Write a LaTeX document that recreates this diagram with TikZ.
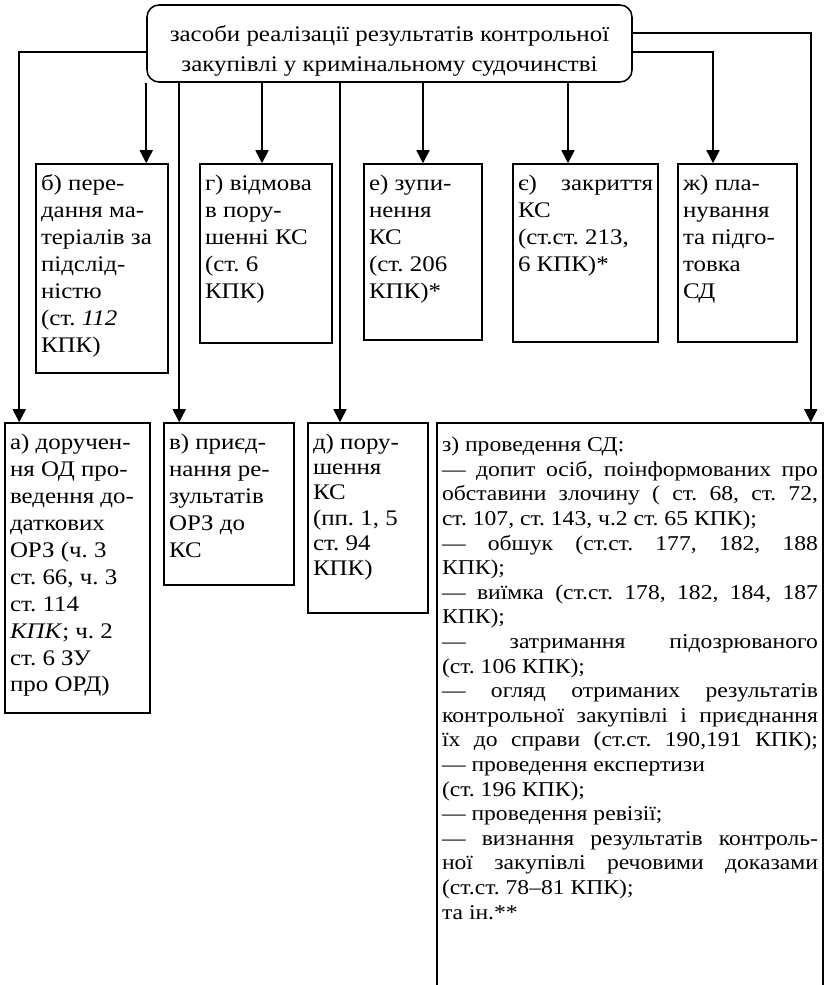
\documentclass[tikz,border=0pt]{standalone}
\usepackage{fontspec}
\setmainfont{Liberation Serif}[FakeStretch=1.12]
\usetikzlibrary{arrows.meta}
\newlength{\pxu}
\setlength{\pxu}{0.3mm}
\newcommand{\celltext}[3]{\parbox[c][#2\pxu][t]{#1\pxu}{\raggedright\vspace*{2\pxu}#3}}
\newcommand{\jline}[1]{\makebox[\linewidth][s]{#1}}
\frenchspacing

\begin{document}
\begin{tikzpicture}[
    x=0.3mm, y=-0.3mm,
    every node/.style={font=\fontsize{19}{23}\selectfont},
    cellbox/.style={draw, line width=1.3pt, inner xsep=5\pxu, inner ysep=9\pxu},
    arr/.style={line width=1.3pt, -{Triangle[length=3.9mm, width=3.9mm]}},
  ]
  \useasboundingbox (0,0) rectangle (829,985);

  \node[draw, line width=1.3pt, rounded corners=3.6mm, minimum width=485\pxu, minimum height=77\pxu,
        align=center, font=\fontsize{19}{25.5}\selectfont] (top) at (389.5,43.5)
    {\rule{0pt}{30\pxu}засоби реалізації результатів контрольної\\закупівлі у кримінальному судочинстві};

  % upper row
  \node[cellbox] (b) at (102,268.5) {\celltext{122}{191}{б) пере-\\дання ма-\\теріалів за\\підслід-\\ністю\\(ст. \textit{112}\\КПК)}};
  \node[cellbox] (g) at (266,253.5) {\celltext{122}{161}{г) відмова\\в пору-\\шенні КС\\(ст. 6\\КПК)}};
  \node[cellbox] (e) at (423,252) {\celltext{108}{158}{е) зупи-\\нення\\КС\\(ст. 206\\КПК)*}};
  \node[cellbox] (ie) at (585.5,253) {\celltext{135}{160}{\jline{є) закриття}\\КС\\(ст.ст. 213,\\6 КПК)*}};
  \node[cellbox] (zh) at (737.5,253) {\celltext{109}{160}{ж) пла-\\нування\\та підго-\\товка\\СД}};

  % lower row
  \node[cellbox] (a) at (77.5,568) {\celltext{135}{272}{а) доручен-\\ня ОД про-\\ведення до-\\даткових\\ОРЗ (ч. 3\\ст. 66, ч. 3\\ст. 114\\\textit{КПК}; ч. 2\\ст. 6 ЗУ\\про ОРД)}};
  \node[cellbox] (v) at (229,504) {\celltext{120}{144}{в) приєд-\\нання ре-\\зультатів\\ОРЗ до\\КС}};
  \node[cellbox, font=\fontsize{19}{21.5}\selectfont] (d) at (368,518) {\celltext{110}{172}{д) пору-\\шення\\КС\\(пп. 1, 5\\ст. 94\\КПК)}};
  \node[cellbox, inner ysep=12\pxu, font=\fontsize{18}{21}\selectfont] (z) at (630,709) {\celltext{376}{548}{%
    з) проведення СД:\\
    \jline{— допит осіб, поінформованих про}\\
    \jline{обставини злочину ( ст. 68, ст. 72,}\\
    ст. 107, ст. 143, ч.2 ст. 65 КПК);\\
    \jline{— обшук (ст.ст. 177, 182, 188}\\
    КПК);\\
    \jline{— виїмка (ст.ст. 178, 182, 184, 187}\\
    КПК);\\
    \jline{— затримання підозрюваного}\\
    (ст. 106 КПК);\\
    \jline{— огляд отриманих результатів}\\
    \jline{контрольної закупівлі і приєднання}\\
    \jline{їх до справи (ст.ст. 190,191 КПК);}\\
    — проведення експертизи\\
    (ст. 196 КПК);\\
    — проведення ревізії;\\
    \jline{— визнання результатів контроль-}\\
    \jline{ної закупівлі речовими доказами}\\
    (ст.ст. 78–81 КПК);\\
    та ін.**}};

  \draw[arr] ([yshift=-8.5\pxu]top.west) -| ([xshift=15\pxu]a.north west);
  \draw[arr] (top.south west) -- (top.south west |- b.north);
  \draw[arr] ([xshift=16\pxu]v.north west |- top.south) -- ([xshift=16\pxu]v.north west);
  \draw[arr] ([xshift=-4\pxu]g.north |- top.south) -- ([xshift=-4\pxu]g.north);
  \draw[arr] ([xshift=-28\pxu]d.north |- top.south) -- ([xshift=-28\pxu]d.north);
  \draw[arr] (e.north |- top.south) -- (e.north);
  \draw[arr] ([xshift=-17.5\pxu]ie.north |- top.south) -- ([xshift=-17.5\pxu]ie.north);
  \draw[arr] ([yshift=-8.5\pxu]top.east) -| ([xshift=-24.5\pxu]zh.north);
  \draw[arr] ([yshift=10.5\pxu]top.east) -| ([xshift=-13\pxu]z.north east);
\end{tikzpicture}
\end{document}
